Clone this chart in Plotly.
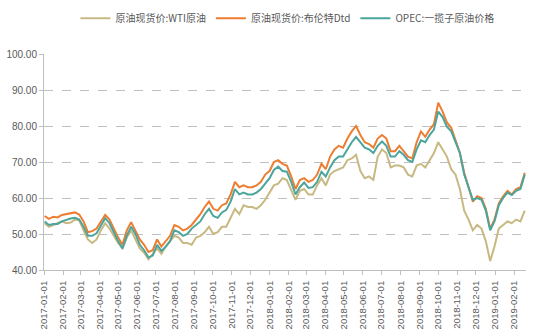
import pandas as pd
import plotly.graph_objects as go

# Weekly observations (Mondays), 2017-01-02 .. 2019-02-18
dates = pd.date_range("2017-01-02", "2019-02-18", freq="W-MON")

wti = [
    # 2017
    53.0, 52.0, 52.5, 53.0, 53.5, 53.0, 53.2, 54.0, 53.8, 51.0, 48.5, 47.5, 48.5,
    51.0, 53.0, 51.5, 49.5, 47.5, 46.0, 49.0, 51.0, 48.5, 46.0, 44.8, 43.0, 44.5,
    46.0, 44.5, 46.5, 48.0, 49.5, 49.0, 47.5, 47.5, 47.0, 49.0, 49.5, 50.5, 52.0,
    50.0, 50.5, 52.0, 52.0, 54.5, 57.0, 55.5, 58.0, 57.5, 57.5, 57.0, 58.0, 59.5,
    # 2018
    61.5, 63.5, 64.0, 65.5, 65.0, 62.0, 59.5, 62.0, 62.5, 61.0, 61.0, 63.5, 65.5,
    63.5, 66.5, 67.5, 68.0, 68.5, 70.5, 71.0, 72.0, 67.5, 65.5, 66.0, 65.0, 71.5,
    73.5, 72.5, 68.5, 69.0, 69.0, 68.5, 66.5, 66.0, 69.0, 69.5, 68.5, 70.5, 72.5,
    75.5, 73.5, 71.5, 68.0, 66.5, 62.5, 56.5, 54.0, 51.0, 52.5, 51.5, 48.0, 42.5,
    46.5,
    # 2019
    51.5, 52.5, 53.5, 53.0, 54.0, 53.5, 56.5,
]

brent = [
    # 2017
    55.0, 54.2, 54.8, 54.6, 55.3, 55.5, 55.8, 56.0, 55.4, 53.5, 50.5, 50.8, 51.5,
    53.5, 55.3, 54.0, 51.5, 49.0, 47.0, 51.0, 53.3, 51.0, 48.5, 47.0, 45.0, 45.5,
    48.5, 46.5, 48.0, 49.5, 52.5, 52.0, 51.0, 51.5, 52.5, 54.0, 55.5, 57.5, 59.0,
    57.0, 56.5, 58.0, 58.5, 61.0, 64.5, 63.0, 63.5, 63.0, 63.0, 63.5, 64.5, 66.5,
    # 2018
    67.5, 70.0, 70.5, 69.5, 69.0, 66.0, 62.5, 65.0, 65.5, 64.5, 65.0, 66.5, 69.5,
    68.0, 71.5, 73.5, 74.5, 74.0, 76.5, 78.5, 80.0, 77.5, 75.5, 75.0, 74.0, 76.5,
    77.5, 76.5, 73.0, 73.0, 74.5, 73.0, 71.5, 71.0, 75.5, 78.5, 77.0, 79.0, 80.5,
    86.5, 84.0, 81.0, 79.5, 76.0, 72.5, 67.0, 63.0, 59.0, 60.5, 60.0, 57.0, 51.5,
    54.0,
    # 2019
    58.5, 60.5, 62.0, 61.0, 62.5, 63.0, 67.0,
]

opec = [
    # 2017
    53.5, 52.5, 52.8, 52.8, 53.5, 54.0, 54.3, 54.5, 54.0, 52.0, 49.5, 49.5, 50.2,
    52.3, 54.4, 53.0, 50.5, 48.0, 46.0, 49.5, 52.0, 50.0, 47.0, 45.5, 43.5, 44.0,
    47.0, 45.3, 46.5, 48.0, 51.0, 50.5, 49.5, 50.0, 51.5, 52.5, 53.5, 55.5, 57.0,
    55.0, 54.5, 56.0, 56.7, 59.0, 62.5, 61.0, 61.5, 61.0, 61.0, 61.5, 62.5, 64.0,
    # 2018
    65.5, 67.8, 68.7, 67.5, 67.3, 64.5, 61.0, 63.0, 64.3, 62.8, 63.0, 64.5, 67.3,
    66.0, 68.5, 70.5, 71.5, 71.5, 73.5, 75.5, 77.0, 75.5, 74.0, 73.5, 72.5, 74.5,
    75.7, 74.5, 71.5, 71.5, 73.0, 72.0, 70.5, 70.0, 73.5, 76.0, 75.5, 77.5, 79.0,
    84.0, 82.5, 79.8, 78.5, 75.5, 72.5, 66.5, 63.0, 59.5, 60.0, 59.5, 56.5, 51.0,
    53.5,
    # 2019
    58.0, 60.0, 61.5, 60.8, 62.0, 62.5, 66.5,
]

series = [
    ("原油现货价:WTI原油", wti, "#C8B882"),
    ("原油现货价:布伦特Dtd", brent, "#ED7D31"),
    ("OPEC:一揽子原油价格", opec, "#4BA59C"),
]

fig = go.Figure()
for name, values, color in series:
    fig.add_trace(go.Scatter(
        x=dates, y=values, name=name, mode="lines",
        line=dict(color=color, width=2),
    ))

label_font = "Liberation Sans, Arial, sans-serif"

fig.update_layout(
    width=550, height=330,
    margin=dict(l=44, r=24, t=54, b=60, autoexpand=False),
    paper_bgcolor="white", plot_bgcolor="white",
    font=dict(family=label_font, size=10, color="#595959"),
    showlegend=True,
    legend=dict(
        orientation="h", x=0.505, xanchor="center",
        y=0.945, yref="container", yanchor="middle",
        font=dict(family="Noto Sans CJK SC, sans-serif", size=10, color="#595959"),
        itemwidth=30, tracegroupgap=0,
    ),
    xaxis=dict(
        type="date",
        range=["2017-01-01", "2019-02-20"],
        dtick="M1", tick0="2017-01-01", tickformat="%Y-%m-%d",
        tickangle=-90, tickfont=dict(size=9.5, color="#595959"),
        ticklabelstandoff=2,
        showgrid=False, showline=True, linecolor="#BFBFBF", linewidth=1,
        ticks="outside", ticklen=4, tickcolor="#BFBFBF",
        zeroline=False, automargin=False,
    ),
    yaxis=dict(
        range=[40, 100], dtick=10, tickformat=".2f",
        tickfont=dict(size=10, color="#595959"),
        showgrid=True, gridcolor="#BFBFBF", griddash="dash", gridwidth=1,
        showline=True, linecolor="#BFBFBF", linewidth=1,
        ticks="outside", ticklen=4, tickcolor="#BFBFBF",
        zeroline=False, automargin=False,
    ),
)

fig.write_html("out.html")
